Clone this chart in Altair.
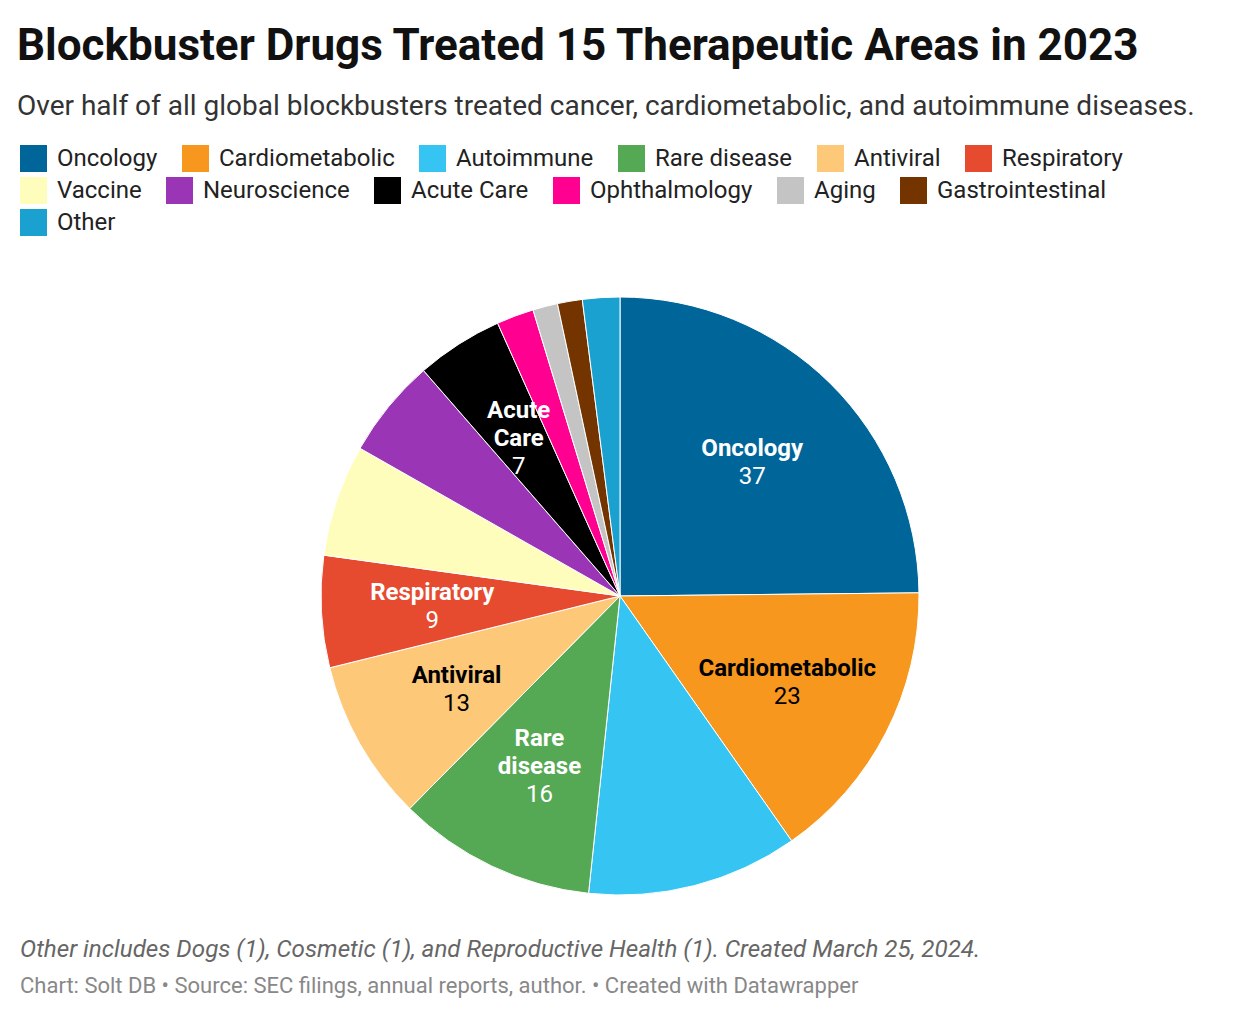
import altair as alt
import pandas as pd

# ---- data ----
categories = ["Oncology", "Cardiometabolic", "Autoimmune", "Rare disease", "Antiviral",
              "Respiratory", "Vaccine", "Neuroscience", "Acute Care", "Ophthalmology",
              "Aging", "Gastrointestinal", "Other"]
counts = [37, 23, 17, 16, 13, 9, 9, 8, 7, 3, 2, 2, 3]
colors = ["#00669a", "#f7971e", "#36c5f2", "#56a954", "#fdc878", "#e64b30",
          "#fffdbb", "#9a35b6", "#000000", "#ff0090", "#c4c4c4", "#733400", "#1ba1d0"]
# in-slice labels ("" = unlabeled slice), "\n" marks a line break
slice_labels = ["Oncology", "Cardiometabolic", "", "Rare\ndisease", "Antiviral",
                "Respiratory", "", "", "Acute\nCare", "", "", "", ""]
label_colors = ["white", "black", "white", "white", "black", "white",
                "black", "white", "white", "white", "black", "white", "white"]

title = "Blockbuster Drugs Treated 15 Therapeutic Areas in 2023"
subtitle = "Over half of all global blockbusters treated cancer, cardiometabolic, and autoimmune diseases."
note = "Other includes Dogs (1), Cosmetic (1), and Reproductive Health (1). Created March 25, 2024."
source = "Chart: Solt DB \u2022 Source: SEC filings, annual reports, author. \u2022 Created with Datawrapper"

# ---- table ----
rows = []
for i, (c, v, lab, tc) in enumerate(zip(categories, counts, slice_labels, label_colors)):
    parts = lab.split("\n") if lab else []
    r = {"idx": i, "category": c, "count": v, "tc": tc,
         "s_a": "", "s_b": "", "s_c": "", "s_d": "", "s_e": ""}
    if len(parts) == 1:
        r["s_b"] = parts[0]
        r["s_d"] = str(v)
    elif len(parts) == 2:
        r["s_a"] = parts[0]
        r["s_c"] = parts[1]
        r["s_e"] = str(v)
    rows.append(r)
df = pd.DataFrame(rows)

# legend wraps like the original: 6 + 6 + 1 entries, each row flowing
legend_rows = [categories[0:6], categories[6:12], categories[12:]]

T = 140            # page y of plot top
CX, CY = 603, 596 - T
R = 299
LR = 188
ROW_PITCH = 32

FONT = "Roboto"

base = alt.Chart(df).encode(
    theta=alt.Theta("count:Q", stack=True),
    order=alt.Order("idx:Q", sort="ascending"),
    x=alt.value(CX),
    y=alt.value(CY),
)


def legend_for(row_i):
    return alt.Legend(
        title=None,
        values=legend_rows[row_i],
        orient="none",
        legendX=3,
        legendY=5 + ROW_PITCH * row_i,
        direction="horizontal",
        columns=len(legend_rows[row_i]),
        symbolType="square",
        symbolSize=729,
        symbolStrokeWidth=0,
        symbolOpacity=1,
        labelFont=FONT,
        labelFontSize=24,
        labelColor="#222222",
        labelOffset=10,
        columnPadding=24,
        padding=0,
        labelLimit=400,
    )


def color_enc(row_i):
    return alt.Color(
        "category:N",
        scale=alt.Scale(domain=categories, range=colors),
        sort=categories,
        legend=legend_for(row_i),
    )


pie = base.mark_arc(radius=R, stroke="white", strokeWidth=1).encode(color=color_enc(0))
# invisible carriers for legend rows 2 and 3
ghost2 = base.mark_arc(radius=0, strokeWidth=0).encode(color=color_enc(1))
ghost3 = base.mark_arc(radius=0, strokeWidth=0).encode(color=color_enc(2))

txt_color = alt.condition("datum.tc == 'white'", alt.value("white"), alt.value("black"))


def slot(field, dy, bold):
    return base.mark_text(
        radius=LR, dy=dy, font=FONT, fontSize=24,
        fontWeight="bold" if bold else "normal",
        align="center", baseline="middle",
    ).encode(text=alt.Text(f"{field}:N"), color=txt_color)


labels = [slot("s_a", -27, True), slot("s_b", -13, True), slot("s_c", 1, True),
          slot("s_d", 15, False), slot("s_e", 29, False)]

foot_df = pd.DataFrame({"t": [note]})
src_df = pd.DataFrame({"t": [source]})
foot1 = alt.Chart(foot_df).mark_text(
    align="left", baseline="alphabetic", font=FONT, fontSize=24.2, fontStyle="italic", color="#666666"
).encode(text="t:N", x=alt.value(3), y=alt.value(957 - T))
foot2 = alt.Chart(src_df).mark_text(
    align="left", baseline="alphabetic", font=FONT, fontSize=22, color="#888888"
).encode(text="t:N", x=alt.value(3), y=alt.value(993 - T))

chart = alt.layer(pie, ghost2, ghost3, *labels, foot1, foot2).resolve_scale(
    color="independent"
).resolve_legend(color="independent").properties(
    width=1215,
    height=862,
    padding={"left": 9, "top": 17, "right": 0, "bottom": 0},
    title=alt.TitleParams(
        text=title,
        subtitle=subtitle,
        anchor="start",
        frame="group",
        font=FONT,
        fontSize=44,
        fontWeight="bold",
        color="#111111",
        subtitleFont=FONT,
        subtitleFontSize=28,
        subtitleColor="#333333",
        subtitlePadding=24,
        offset=19,
    ),
).configure_view(stroke=None)

chart.save("out.html", embed_options={"renderer": "svg", "actions": False})
